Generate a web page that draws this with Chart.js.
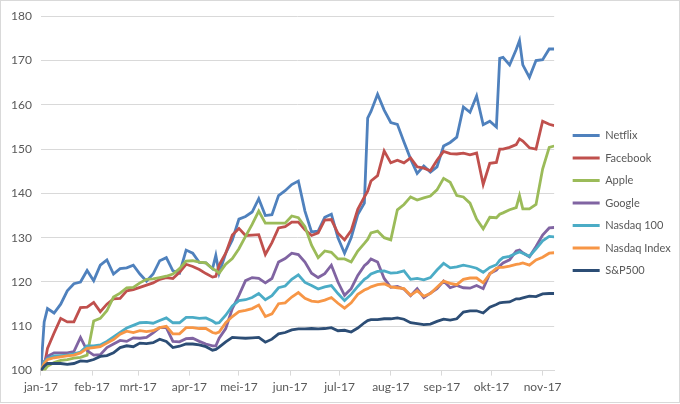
<!DOCTYPE html>
<html>
<head>
<meta charset="utf-8">
<script src="https://cdn.jsdelivr.net/npm/chart.js@4"></script>
<style>
  html, body { margin: 0; padding: 0; background: #fff; }
  #wrap { position: relative; width: 680px; height: 404px; }
</style>
</head>
<body>
<div id="wrap"><canvas id="stocksChart" width="680" height="404"></canvas></div>
<script>
// x values are days since 1 jan 2017
const days = [0, 2, 4, 8, 12, 16, 20, 24, 28, 32, 36, 40, 44, 48, 52, 56, 60, 64, 68, 72, 76, 80, 84, 88, 92, 96, 100, 104, 106,
    108, 112, 116, 120, 124, 128, 132, 136, 140, 144, 148, 152, 156, 160, 164, 168, 172, 176, 180, 184, 188, 192, 196, 198,
    200, 204, 208, 212, 216, 220, 224, 228, 232, 236, 240, 244, 248, 252, 256, 260, 264, 268, 272, 276, 278,
    280, 284, 288, 290, 292, 296, 300, 304, 308, 311];

const monthDays = [0, 31, 59, 90, 120, 151, 181, 212, 243, 273, 304];
const monthLabels = ['jan-17', 'feb-17', 'mrt-17', 'apr-17', 'mei-17', 'jun-17', 'jul-17', 'aug-17', 'sep-17', 'okt-17', 'nov-17'];

const seriesNames = ['Netflix', 'Facebook', 'Apple', 'Google', 'Nasdaq 100', 'Nasdaq Index', 'S&P500'];
const seriesColors = ['#4F81BD', '#C0504D', '#9BBB59', '#8064A2', '#4BACC6', '#F79646', '#2C4D75'];

const netflix = [100, 111, 114, 113, 115, 118, 119.6, 120, 122.6, 120.3, 123.8, 125, 121.8, 123, 123.2, 123.8, 121.8, 120.2, 121.8,
    124.8, 125.5, 122.5, 122, 127.2, 126.5, 124.4, 124.3, 123, 126,
    122, 126.5, 129.5, 134.2, 134.8, 135.8, 138.8, 135, 135.2, 139.5, 140.6, 142, 142.8, 136, 131.3, 131.5, 134.6, 135.3,
    130, 126.5, 130, 135.2, 137.8, 157,
    158.5, 162.4, 158.8, 156, 155.6, 151.6, 147.8, 144.5, 146.2, 144.8, 146, 150.7, 151.5, 152.7, 159.5, 158.3, 162,
    155.5, 156.3, 155, 170.5,
    170.7, 169, 172.5, 174.5, 169, 166.2, 170, 170.2, 172.6, 172.6];

const facebook = [100, 101, 105, 108.5, 111.8, 111, 111, 114.2, 114.3, 115.4, 113.3, 115, 116.2, 116.3, 118, 118.3, 118.8, 119.3,
    119.8, 120.6, 121, 120.8, 122.2, 124, 123.5, 122.8, 121.9, 121.1, 121.3,
    123.8, 126.5, 130.6, 132.1, 130.5, 130.6, 130.7, 126.2, 128.9, 132.2, 132.5, 133.5, 133.5, 131.8, 130.5, 131.1, 134,
    134.1, 131, 129.5, 131.6, 136.4, 139.2, 140.5,
    142.8, 144, 149.6, 146.9, 147.5, 146.9, 148, 146, 145.7, 145.1, 147.5, 149.5, 149, 148.9, 149.1, 148.7, 149.1, 142,
    146.8, 147, 150,
    150, 150.4, 151, 152.3, 151.8, 150.3, 150, 156.3, 155.6, 155.3];

const apple = [100, 100, 101, 101.8, 102.3, 102.5, 102.8, 103, 103.5, 111.2, 111.8, 113.5, 116.6, 117.5, 118.7, 118.8, 119.8,
    120.6, 120.7, 121, 121.3, 121.8, 123, 124.7, 124.8, 124.5, 124.3, 123, 122.6,
    122, 124, 125.3, 127.5, 130.3, 133, 136, 133.3, 133.3, 133.3, 133.3, 134.9, 134.5, 132.5, 128.3, 125.5, 127, 126.7,
    125.2, 125.2, 124.5, 127, 128.7, 129.6,
    131.1, 131.5, 130, 129.5, 136.3, 137.5, 139.2, 138.5, 139, 139.4, 140.8, 143.4, 142.5, 139.5, 139.2, 137.8, 134.2,
    132, 134.6, 134.5, 135.3,
    135.6, 136.3, 136.8, 139.5, 136.5, 136.5, 137.5, 145.5, 150.4, 150.7];

const google = [100, 102, 103.2, 104, 104, 104, 104.3, 107.5, 104.5, 103.5, 103.6, 105.2, 106, 106.8, 106.6, 107.4, 107.3, 107.5,
    108.5, 109.7, 109.7, 106.6, 106.5, 107.2, 107.3, 106.6, 106, 105.6, 105.6,
    107.3, 109.5, 114, 117, 120.3, 121, 120.8, 119.8, 120.8, 124.5, 125.3, 126.5, 126.2, 124.5, 122, 121, 121.9, 123.8,
    120, 117, 118.5, 121.5, 123.7, 124.3,
    125.2, 124.5, 120.8, 118.8, 119, 118.4, 116.9, 118.5, 116.5, 117.5, 118.5, 120.2, 118.7, 119.2, 118.7, 118.6, 119.2,
    118.5, 121.9, 122.7, 123.6,
    124.3, 125, 127, 127.2, 126.6, 125.7, 128, 130.6, 132.2, 132.3];

const nasdaq100 = [100, 102, 102.7, 103.3, 103.4, 103.5, 103.8, 104.2, 105.6, 105.6, 105.8, 106.6, 107.6, 108.6, 109.6, 110.2,
    110.8, 110.9, 110.7, 111.3, 111.9, 110.8, 110.8, 112, 112, 111.8, 111.9, 111.2, 110.7,
    110.8, 112.5, 114.6, 115.8, 116, 116.5, 117.4, 116, 116.9, 118.7, 119.1, 120.6, 121.6, 119.9, 119.2, 118.4, 118.9,
    119.2, 117.4, 115.8, 117.2, 119, 120.6, 121.1,
    121.8, 122.4, 122.5, 122, 122.1, 122.5, 120.6, 120.8, 120.5, 121, 122.7, 124.2, 123.2, 123.4, 123.8, 123.5, 123.1,
    122.2, 123.3, 123.9, 124.9,
    125.5, 125.8, 126.5, 126.8, 126.5, 125.8, 127.5, 129.3, 130.3, 130.2];

const nasdaqIndex = [100, 101.6, 102.5, 102.9, 103.1, 103.3, 103.5, 104, 105, 105.2, 105.4, 106.2, 107, 108.2, 108.9, 108.6,
    109, 108.8, 109, 109.7, 110, 108.3, 108.3, 109.7, 109.7, 109.5, 109.5, 108.6, 108.4,
    108.7, 110.8, 112.2, 113.3, 113.6, 114, 114.8, 112.2, 112.8, 115.1, 115.3, 116.6, 117.6, 116.3, 115.7, 115.5, 115.9,
    116.5, 115.2, 114.1, 115.3, 117.2, 118.2, 118.5,
    118.9, 119.4, 119.6, 118.9, 118.7, 118.5, 117, 118, 116.8, 117.4, 118.8, 120.2, 119.7, 119.4, 120.6, 120.9, 120.9,
    119.8, 121.8, 123.1, 123.3,
    123.3, 123.6, 124, 124.1, 124.3, 123.8, 125, 125.6, 126.5, 126.6];

const sp500 = [100, 101, 101.6, 101.6, 101.6, 101.4, 101.6, 102.2, 102.1, 102.5, 103.2, 103.4, 104, 105.2, 105.6, 105.4, 106.2,
    106.1, 106.3, 107.1, 106.6, 105.2, 105.5, 106, 106, 105.8, 105.4, 104.6, 104.8,
    105.3, 106.5, 107.5, 107.4, 107.3, 107.4, 107.5, 106.4, 107.1, 108.3, 108.6, 109.2, 109.4, 109.4, 109.5, 109.4, 109.5,
    109.7, 109, 109.1, 108.7, 109.6, 110.8, 111.3,
    111.5, 111.5, 111.7, 111.7, 111.9, 111.6, 110.8, 110.6, 110.4, 110.5, 111.1, 111.6, 111.4, 111.7, 113.2, 113.5, 113.5,
    113, 114.3, 114.9, 115.3,
    115.4, 115.5, 116.2, 116.2, 116.4, 116.8, 116.7, 117.3, 117.4, 117.4];

const seriesValues = [netflix, facebook, apple, google, nasdaq100, nasdaqIndex, sp500];

const textColor = '#595959';
const gridColor = '#d9d9d9';
const fontFamily = 'Lato, "Liberation Sans", sans-serif';

// Excel draws later series on top, so give them a lower "order"
const datasets = seriesNames.map((name, i) => ({
    label: name,
    data: days.map((d, k) => ({x: d, y: seriesValues[i][k]})),
    borderColor: seriesColors[i],
    backgroundColor: seriesColors[i],
    borderWidth: 2.8,
    pointRadius: 0,
    tension: 0,
    order: seriesNames.length - i,
}));

// light border round the whole chart area
const frame = {
    id: 'frame',
    beforeDraw(chart) {
        const ctx = chart.ctx;
        ctx.save();
        ctx.fillStyle = '#ffffff';
        ctx.fillRect(0, 0, chart.width, chart.height);
        ctx.strokeStyle = gridColor;
        ctx.lineWidth = 1;
        ctx.strokeRect(0.5, 0.5, chart.width - 1, chart.height - 2);
        ctx.restore();
    }
};

let ctx = document.getElementById('stocksChart').getContext('2d');
let stocksChart = new Chart(ctx, {
    type: 'line',
    data: { datasets: datasets },
    plugins: [frame],
    options: {
        responsive: false,
        animation: false,
        devicePixelRatio: 1,
        layout: {
            padding: { left: 2, right: 7, top: 8, bottom: 6 },
        },
        scales: {
            x: {
                type: 'linear',
                min: 0,
                max: 311,
                afterBuildTicks: (axis) => {
                    axis.ticks = monthDays.map(v => ({ value: v }));
                },
                ticks: {
                    autoSkip: false,
                    maxRotation: 0,
                    padding: 4,
                    color: textColor,
                    font: { family: fontFamily, size: 12 },
                    callback: (value) => monthLabels[monthDays.indexOf(value)],
                },
                grid: {
                    drawOnChartArea: false,
                    drawTicks: true,
                    tickLength: 5,
                    color: gridColor,
                },
                border: { color: gridColor },
            },
            y: {
                min: 100,
                max: 180,
                ticks: {
                    stepSize: 10,
                    padding: 9,
                    color: textColor,
                    font: { family: fontFamily, size: 12 },
                },
                grid: {
                    drawTicks: false,
                    color: gridColor,
                },
                border: { display: false },
            },
            // empty axis only to leave a gap between plot and legend
            gap: {
                position: 'right',
                display: true,
                ticks: { display: false },
                grid: { display: false },
                border: { display: false },
                afterFit: (axis) => { axis.width = 7; },
            },
        },
        plugins: {
            tooltip: { enabled: false },
            legend: {
                position: 'right',
                align: 'center',
                labels: {
                    boxWidth: 27,
                    boxHeight: 3,
                    padding: 11.5,
                    color: textColor,
                    font: { family: fontFamily, size: 11 },
                    sort: (a, b) => a.datasetIndex - b.datasetIndex,
                    generateLabels: (chart) => {
                        const items = Chart.defaults.plugins.legend.labels.generateLabels(chart);
                        items.forEach(item => { item.lineWidth = 0; });
                        return items;
                    },
                },
            },
        },
    },
});
</script>
</body>
</html>
